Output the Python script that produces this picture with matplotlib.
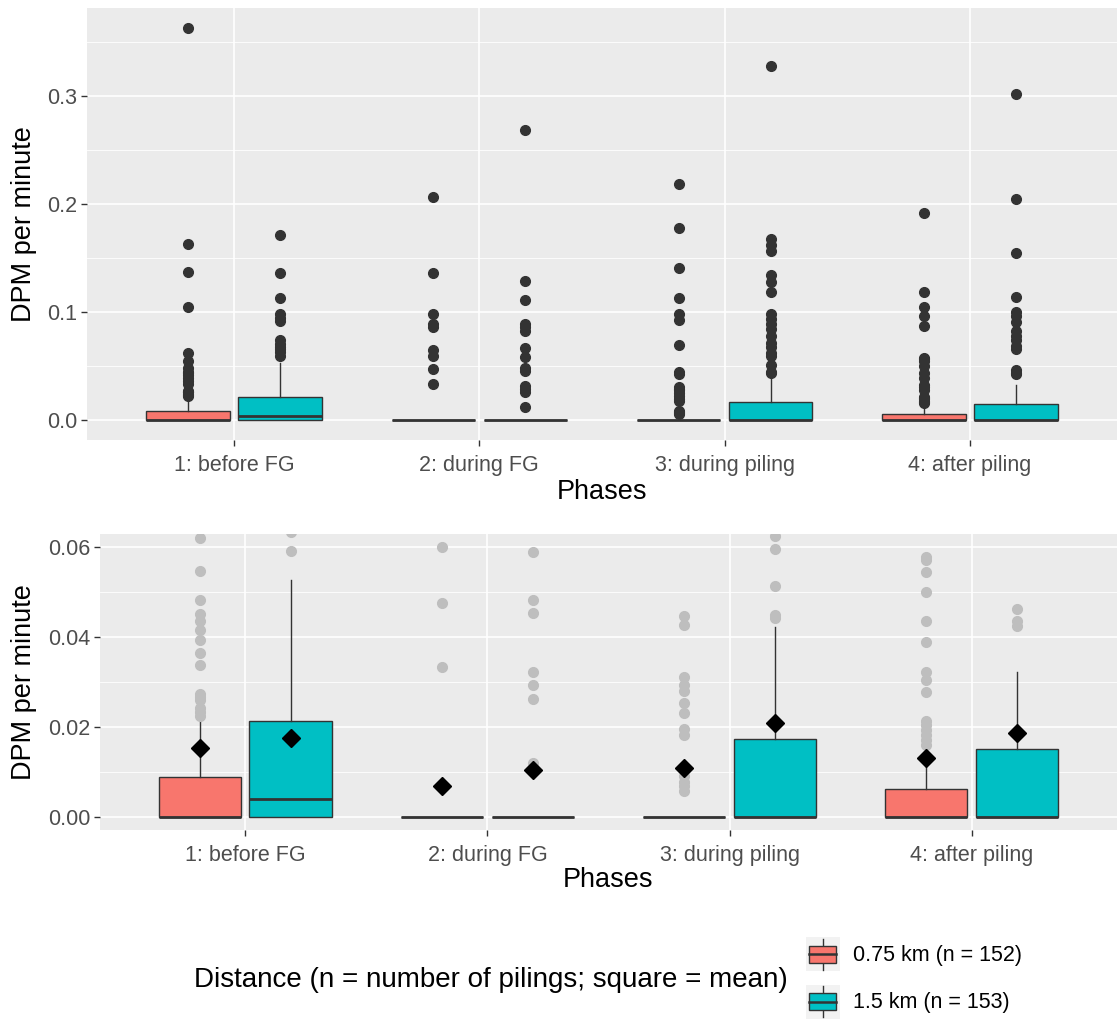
import matplotlib
matplotlib.use("Agg")
import matplotlib.pyplot as plt
from matplotlib.patches import Rectangle, Patch
from matplotlib.lines import Line2D
from matplotlib.legend_handler import HandlerBase

plt.rcParams['font.family'] = ['Liberation Sans', 'DejaVu Sans']

phases = ['1: before FG', '2: during FG', '3: during piling', '4: after piling']
distances = ['0.75 km (n = 152)', '1.5 km (n = 153)']
colors = ['#F8766D', '#00BFC4']

# 0.75 km box stats per phase
q1_near = [0, 0, 0, 0]
med_near = [0, 0, 0, 0]
q3_near = [0.0087, 0, 0, 0.0062]
whislo_near = [0, 0, 0, 0]
whishi_near = [0.0212, 0, 0, 0.0150]
mean_near = [0.0152, 0.0067, 0.0108, 0.0131]
out_near = [
    [0.3635, 0.1636, 0.137, 0.105, 0.0621, 0.0547, 0.0483, 0.0451, 0.0435, 0.0416,
     0.0393, 0.0364, 0.0337, 0.0274, 0.0266, 0.0259, 0.0241, 0.0232, 0.0224],
    [0.207, 0.136, 0.098, 0.089, 0.086, 0.065, 0.060, 0.0476, 0.0333],
    [0.219, 0.178, 0.141, 0.113, 0.098, 0.093, 0.070, 0.0446, 0.0428, 0.0312,
     0.0294, 0.028, 0.0252, 0.023, 0.0196, 0.0182, 0.009, 0.0078, 0.0067, 0.0058],
    [0.192, 0.1185, 0.105, 0.0966, 0.087, 0.0578, 0.0571, 0.0546, 0.050, 0.0437,
     0.039, 0.0323, 0.0305, 0.0277, 0.0213, 0.0204, 0.0193, 0.0182, 0.0171, 0.016],
]

# 1.5 km box stats per phase
q1_far = [0, 0, 0, 0]
med_far = [0.004, 0, 0, 0]
q3_far = [0.0213, 0, 0.0173, 0.0151]
whislo_far = [0, 0, 0, 0]
whishi_far = [0.0528, 0, 0.0422, 0.0323]
mean_far = [0.0175, 0.0103, 0.0208, 0.0187]
out_far = [
    [0.172, 0.136, 0.113, 0.098, 0.095, 0.092, 0.074, 0.071, 0.068, 0.066, 0.0635, 0.0593],
    [0.2685, 0.129, 0.111, 0.089, 0.086, 0.083, 0.067, 0.0589, 0.0483, 0.0454,
     0.0322, 0.0293, 0.0262, 0.0119],
    [0.328, 0.168, 0.162, 0.157, 0.135, 0.1285, 0.119, 0.098, 0.094, 0.089, 0.0845,
     0.078, 0.072, 0.068, 0.0625, 0.0596, 0.0513, 0.045, 0.0442],
    [0.302, 0.2045, 0.155, 0.114, 0.100, 0.097, 0.091, 0.083, 0.078, 0.074, 0.069,
     0.0656, 0.0462, 0.0435, 0.0425],
]


def stats(q1, med, q3, lo, hi, mean, out):
    return [dict(q1=q1[i], med=med[i], q3=q3[i], whislo=lo[i], whishi=hi[i],
                 mean=mean[i], fliers=out[i]) for i in range(len(q1))]


groups = [
    stats(q1_near, med_near, q3_near, whislo_near, whishi_near, mean_near, out_near),
    stats(q1_far, med_far, q3_far, whislo_far, whishi_far, mean_far, out_far),
]
offsets = [-0.1875, 0.1875]

fig = plt.figure(figsize=(11.18, 10.19), dpi=100)
ax1 = fig.add_axes([0.0778, 0.5682, 0.9213, 0.4239])
ax2 = fig.add_axes([0.0894, 0.1855, 0.9097, 0.2905])


def draw(ax, flier_color, show_means):
    for g, off, col in zip(groups, offsets, colors):
        pos = [i + 1 + off for i in range(len(phases))]
        ax.bxp(g, positions=pos, widths=0.34, patch_artist=True, showcaps=False,
               showmeans=show_means, manage_ticks=False,
               boxprops=dict(facecolor=col, edgecolor='#333333', linewidth=1.0),
               whiskerprops=dict(color='#333333', linewidth=1.0),
               medianprops=dict(color='#333333', linewidth=2.0),
               flierprops=dict(marker='o', markerfacecolor=flier_color,
                               markeredgecolor=flier_color, markersize=7),
               meanprops=dict(marker='D', markerfacecolor='black',
                              markeredgecolor='black', markersize=9.5))
    ax.set_facecolor('#EBEBEB')
    ax.set_xlim(0.4, 4.6)
    ax.set_xticks(range(1, len(phases) + 1))
    ax.set_xticklabels(phases)
    ax.grid(which='major', color='white', linewidth=1.2)
    ax.grid(which='minor', axis='y', color='white', linewidth=0.6)
    ax.set_axisbelow(True)
    for s in ax.spines.values():
        s.set_visible(False)
    ax.tick_params(which='major', length=4.3, width=1.0, color='#333333',
                   labelsize=15.5, labelcolor='#4D4D4D', pad=2.5)
    ax.tick_params(axis='x', which='major', pad=6.5)
    ax.tick_params(which='minor', length=0)
    ax.set_ylabel('DPM per minute', fontsize=19.5)
    ax.set_xlabel('Phases', fontsize=19.5)
    ax.xaxis.label.set_va('center')


draw(ax1, '#333333', False)
ax1.set_ylim(-0.0182, 0.3817)
ax1.set_yticks([0.0, 0.1, 0.2, 0.3])
ax1.set_yticklabels(['0.0', '0.1', '0.2', '0.3'])
ax1.set_yticks([0.05, 0.15, 0.25, 0.35], minor=True)
ax1.yaxis.set_label_coords(-0.0485, 0.5)
ax1.xaxis.set_label_coords(0.5, -0.120)

draw(ax2, '#BEBEBE', True)
ax2.set_ylim(-0.003, 0.063)
ax2.set_yticks([0.0, 0.02, 0.04, 0.06])
ax2.set_yticklabels(['0.00', '0.02', '0.04', '0.06'])
ax2.set_yticks([0.01, 0.03, 0.05], minor=True)
ax2.yaxis.set_label_coords(-0.062, 0.5)
ax2.xaxis.set_label_coords(0.5, -0.169)


class BoxKey(HandlerBase):
    def create_artists(self, legend, orig_handle, xdescent, ydescent, width,
                       height, fontsize, trans):
        x0, y0 = -xdescent, -ydescent
        bg = Rectangle((x0, y0), width, height, facecolor='#F2F2F2',
                       edgecolor='none', transform=trans)
        wh = Line2D([x0 + width / 2] * 2, [y0 + height * 0.05, y0 + height * 0.95],
                    color='#333333', lw=1.0, transform=trans)
        box = Rectangle((x0 + width * 0.1, y0 + height * 0.24), width * 0.8,
                        height * 0.52, facecolor=orig_handle.get_facecolor(),
                        edgecolor='#333333', lw=1.0, transform=trans)
        md = Line2D([x0 + width * 0.1, x0 + width * 0.9], [y0 + height / 2] * 2,
                    color='#333333', lw=1.8, transform=trans)
        return [bg, wh, box, md]


handles = [Patch(facecolor=c) for c in colors]
fig.legend(handles, distances, loc='center left',
           bbox_to_anchor=(806 / 1118, 1 - 978 / 1019), frameon=False,
           fontsize=15.5, borderpad=0, borderaxespad=0, handlelength=1.57,
           handleheight=2.05, handletextpad=0.6, labelspacing=0.62,
           handler_map={Patch: BoxKey()})
fig.text(788 / 1118, 1 - 980 / 1019, 'Distance (n = number of pilings; square = mean)',
         ha='right', va='center', fontsize=20)

fig.savefig('out.png', dpi=100, facecolor='white')
